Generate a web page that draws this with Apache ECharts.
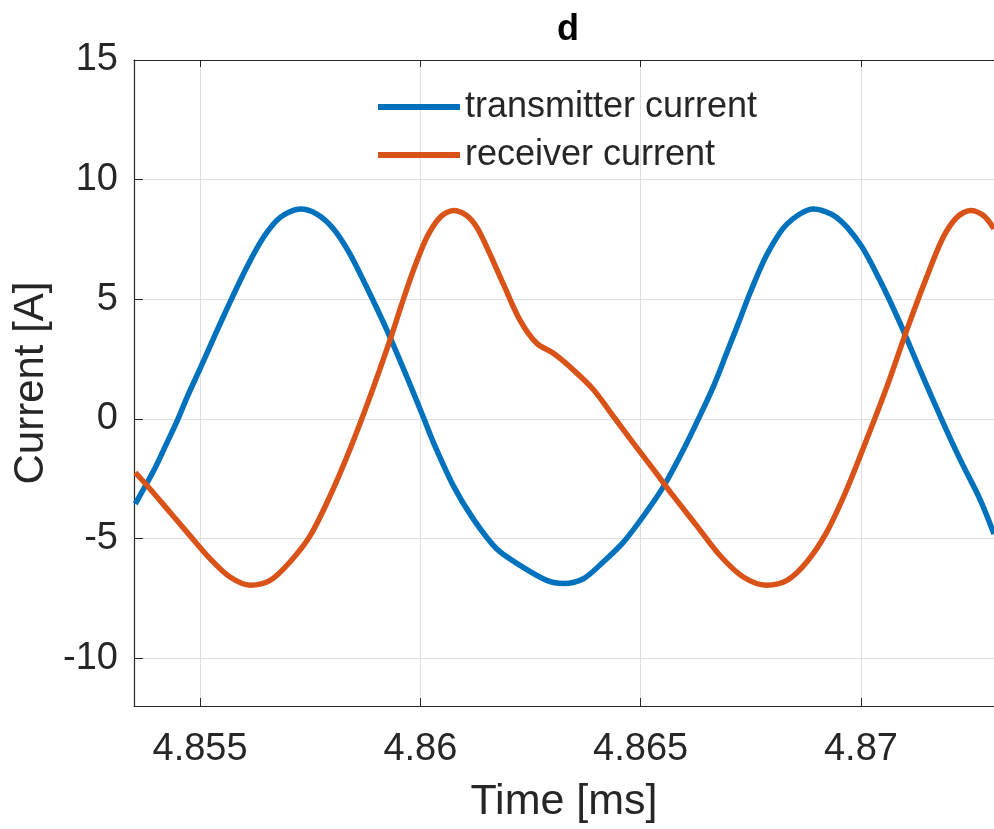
<!DOCTYPE html>
<html><head><meta charset="utf-8">
<script src="https://cdn.jsdelivr.net/npm/echarts@6/dist/echarts.min.js"></script>
<style>html,body{margin:0;padding:0;background:#fff;}#c{width:994px;height:829px;}</style>
</head><body><div id="c"></div>
<script>
const titleText = 'd';
const xName = 'Time [ms]';
const yName = 'Current [A]';
const seriesNames = ['transmitter current', 'receiver current'];
const xTicks = [4.855, 4.86, 4.865, 4.87];
const yTicks = [-10, -5, 0, 5, 10, 15];
const xRange = [4.8535, 4.87302];
const yRange = [-12, 15];

const tTx = [4.85353, 4.85396, 4.85426, 4.85449, 4.85471, 4.85502, 4.85532, 4.85570, 4.85606, 4.85644,
  4.85682, 4.85727, 4.85765, 4.85803, 4.85840, 4.85878, 4.85924, 4.85969, 4.86005, 4.86030,
  4.86075, 4.86120, 4.86173, 4.86226, 4.86287, 4.86325, 4.86370, 4.86415, 4.86461, 4.86506,
  4.86552, 4.86597, 4.86635, 4.86665, 4.86695, 4.86726, 4.86748, 4.86786, 4.86832, 4.86892,
  4.86945, 4.86998, 4.87043, 4.87089, 4.87134, 4.87180, 4.87225, 4.87270, 4.87302];
const iTx = [-3.55, -2.12, -0.95, -0.04, 0.93, 2.18, 3.43, 4.96, 6.34, 7.59,
  8.42, 8.77, 8.56, 7.94, 6.90, 5.51, 3.71, 1.77, 0.15, -1.0,
  -2.80, -4.18, -5.43, -6.12, -6.75, -6.88, -6.68, -5.98, -5.15, -4.07,
  -2.82, -1.29, 0.15, 1.35, 2.74, 4.2, 5.25, 6.85, 8.14, 8.77,
  8.42, 7.31, 5.79, 3.99, 2.05, 0.11, -1.69, -3.35, -4.81];

const tRx = [4.85353, 4.85387, 4.85432, 4.85477, 4.85523, 4.85568, 4.85614, 4.85659, 4.85704, 4.85750,
  4.85795, 4.85840, 4.85886, 4.85931, 4.85956, 4.85984, 4.86015, 4.86045, 4.86075, 4.86105,
  4.86128, 4.86151, 4.86188, 4.86226, 4.86264, 4.86302, 4.86347, 4.86393, 4.86438, 4.86483,
  4.86529, 4.86574, 4.86627, 4.86680, 4.86733, 4.86786, 4.86832, 4.86877, 4.86922, 4.86968,
  4.87013, 4.87059, 4.87104, 4.87149, 4.87187, 4.87218, 4.87248, 4.87278, 4.87302];
const iRx = [-2.24, -2.94, -3.91, -4.88, -5.85, -6.61, -6.95, -6.75, -5.98, -4.88,
  -3.22, -1.28, 0.94, 3.29, 4.7, 6.2, 7.6, 8.43, 8.71, 8.5,
  8.01, 7.17, 5.65, 4.13, 3.16, 2.74, 2.05, 1.22, 0.11, -1.0,
  -2.11, -3.22, -4.46, -5.71, -6.61, -6.95, -6.75, -5.98, -4.74, -2.94,
  -0.86, 1.35, 3.71, 5.92, 7.6, 8.43, 8.71, 8.5, 7.95];

const axisColor = '#262626';
const font = 'Liberation Sans, Arial, sans-serif';
const chart = echarts.init(document.getElementById('c'), null, {renderer: 'canvas'});
chart.setOption({
  animation: false,
  backgroundColor: '#fff',
  title: {
    text: titleText, left: 568, top: 12, textAlign: 'center', padding: 0,
    textStyle: {fontFamily: font, fontSize: 36, fontWeight: 'bold', color: '#000'}
  },
  legend: {
    orient: 'vertical', left: 378, top: 89, itemWidth: 82, itemHeight: 40, itemGap: 12,
    padding: 0,
    data: [
      {name: seriesNames[0], icon: 'path://M0,17 L82,17 L82,23 L0,23 Z'},
      {name: seriesNames[1], icon: 'path://M0,17 L82,17 L82,23 L0,23 Z'}
    ],
    textStyle: {fontFamily: font, fontSize: 36, color: axisColor, padding: [0, 0, 0, 0]}
  },
  grid: {left: 134, top: 60, right: 0, bottom: 123, containLabel: false},
  xAxis: [{
    type: 'value', min: xRange[0], max: xRange[1], position: 'bottom',
    name: xName, nameLocation: 'middle', nameGap: 75,
    nameTextStyle: {fontFamily: font, fontSize: 43, color: axisColor},
    axisLine: {show: true, onZero: false, lineStyle: {color: axisColor, width: 1.2}},
    axisTick: {show: true, inside: true, length: 8, customValues: xTicks, lineStyle: {color: axisColor}},
    axisLabel: {show: true, customValues: xTicks, margin: 25, fontFamily: font, fontSize: 38, color: axisColor,
      formatter: v => String(+v.toFixed(3))},
    splitLine: {show: true, lineStyle: {color: '#dedede', width: 1}}
  }, {
    type: 'value', min: xRange[0], max: xRange[1], position: 'top',
    axisLine: {show: true, onZero: false, lineStyle: {color: axisColor, width: 1.2}},
    axisTick: {show: true, inside: true, length: 7, customValues: xTicks, lineStyle: {color: axisColor}},
    axisLabel: {show: false},
    splitLine: {show: false}
  }],
  yAxis: {
    type: 'value', min: yRange[0], max: yRange[1],
    name: yName, nameLocation: 'middle', nameGap: 78,
    nameTextStyle: {fontFamily: font, fontSize: 42, color: axisColor},
    axisLine: {show: true, onZero: false, lineStyle: {color: axisColor, width: 1.2}},
    axisTick: {show: true, inside: true, length: 9, customValues: yTicks, lineStyle: {color: axisColor}},
    axisLabel: {show: true, customValues: yTicks, margin: 16, fontFamily: font, fontSize: 38, color: axisColor},
    splitLine: {show: true, lineStyle: {color: '#dedede', width: 1}}
  },
  series: [{
    name: seriesNames[0], type: 'line', xAxisIndex: 0, showSymbol: false, symbol: 'none', smooth: 0.3,
    data: tTx.map((t, k) => [t, iTx[k]]),
    lineStyle: {color: '#0072BD', width: 5.5}, itemStyle: {color: '#0072BD'}, clip: true
  }, {
    name: seriesNames[1], type: 'line', xAxisIndex: 0, showSymbol: false, symbol: 'none', smooth: 0.3,
    data: tRx.map((t, k) => [t, iRx[k]]),
    lineStyle: {color: '#D95319', width: 5.5}, itemStyle: {color: '#D95319'}, clip: true
  }]
});
</script></body></html>
